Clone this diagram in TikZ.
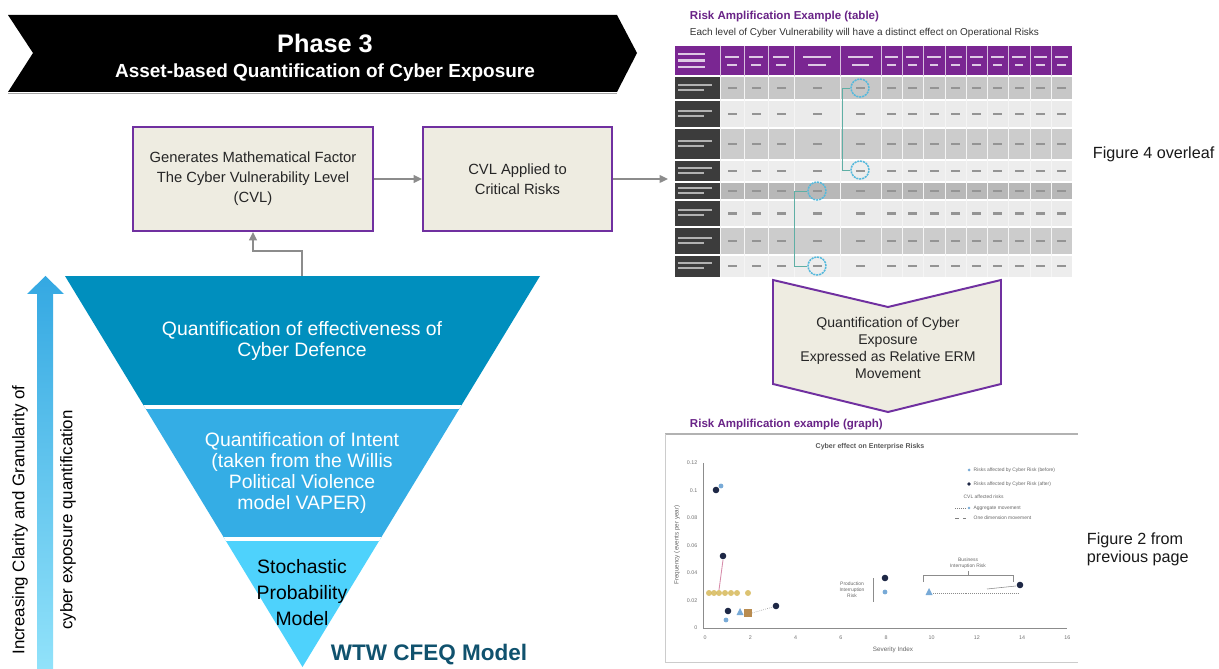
\documentclass[tikz,border=0pt]{standalone}
\usepackage{fontspec}
\setmainfont{Liberation Sans}
\usetikzlibrary{positioning,calc,arrows.meta}

\definecolor{cfpurple}{RGB}{112,48,160}
\definecolor{cfbeige}{RGB}{238,236,225}
\definecolor{cfgrey}{RGB}{140,140,140}
\definecolor{layerone}{RGB}{0,143,190}
\definecolor{layertwo}{RGB}{52,173,229}
\definecolor{layerthree}{RGB}{78,210,252}
\definecolor{wtwteal}{RGB}{16,82,110}
\definecolor{arrowtop}{RGB}{52,168,226}
\definecolor{arrowbot}{RGB}{145,226,250}
\definecolor{tblpurple}{RGB}{122,38,146}
\definecolor{tbltext}{RGB}{105,35,135}
\definecolor{rowdark}{RGB}{60,60,60}
\definecolor{hlcyan}{RGB}{85,185,220}
\definecolor{linkteal}{RGB}{95,175,165}
\definecolor{navypt}{RGB}{30,40,70}
\definecolor{lightpt}{RGB}{120,170,215}
\definecolor{goldpt}{RGB}{215,185,90}
\definecolor{brownpt}{RGB}{185,140,80}
\definecolor{pinkln}{RGB}{215,140,170}

\begin{document}
\begin{tikzpicture}[x=0.025cm, y=-0.025cm,
  box/.style={draw=cfpurple, line width=1.4pt, fill=cfbeige, align=center, text=black!85, inner sep=0pt, font=\fontsize{10.5}{14.2}\selectfont},
  flow/.style={draw=cfgrey, line width=1.1pt, -{Triangle[length=6pt,width=5.5pt]}},
  layertext/.style={align=center, text=white, font=\fontsize{13.8}{15.6}\selectfont},
  sidenote/.style={anchor=west, align=left, text=black!90, font=\fontsize{11.5}{13}\selectfont},
  heading/.style={anchor=west, text=tbltext, font=\bfseries\fontsize{8.2}{9.5}\selectfont},
  hilite/.style={circle, draw=hlcyan, line width=1.1pt, dash pattern=on 1.5pt off 0.6pt, minimum size=0.45cm, inner sep=0pt},
  link/.style={draw=linkteal, line width=0.5pt},
  cellbar/.style={fill=black!42},
  ticklab/.style={text=black!55, font=\fontsize{3.8}{4.5}\selectfont, inner sep=1pt},
  tinylab/.style={text=black!60, align=center, font=\fontsize{3.5}{4.2}\selectfont, inner sep=1pt}]

\useasboundingbox[fill=white] (0,0) rectangle (1219,669);

% phase banner
\fill (8,15) -- (617,15) -- (637,53) -- (617,92) -- (8,92) -- (33,53) -- cycle;
\draw[black!35, line width=0.8pt] (8,93.5) -- (617,93.5);
\node[text=white, font=\bfseries\fontsize{18}{20}\selectfont] (phase) at (325,43) {Phase 3};
\node[text=white, font=\bfseries\fontsize{13.5}{15}\selectfont] (phasesub) at (325,73) {Asset-based Quantification of Cyber Exposure};

% process boxes
\node[box, minimum width=6cm, minimum height=2.6cm] (gen) at (253,179) {Generates Mathematical Factor\\The Cyber Vulnerability Level\\(CVL)};
\node[box, minimum width=4.725cm, minimum height=2.6cm] (cvl) at (517.5,179) {CVL Applied to\\Critical Risks};

% funnel
\begin{scope}
  \clip (65,276) -- (540,276) -- (302.5,667) -- cycle;
  \fill[layerone] (0,276) rectangle (600,407);
  \fill[layertwo] (0,407) rectangle (600,539);
  \fill[layerthree] (0,539) rectangle (600,669);
  \draw[white, line width=2.8pt] (0,407) -- (600,407) (0,539) -- (600,539);
\end{scope}
\coordinate (ftop) at (302,276);
\node[layertext] (defence) at (302,341) {Quantification of effectiveness of\\Cyber Defence};
\node[layertext, font=\fontsize{13.8}{15}\selectfont] (intent) at (302,473) {Quantification of Intent\\(taken from the Willis\\Political Violence\\model VAPER)};
\node[layertext, text=black, font=\fontsize{13.8}{18.5}\selectfont] (stoch) at (302,593) {Stochastic\\Probability\\Model};
\node[text=wtwteal, font=\bfseries\fontsize{16}{18}\selectfont] (model) at (429,655) {WTW CFEQ Model};

% clarity arrow
\shade[top color=arrowtop, bottom color=arrowbot] (37,669) -- (37,294) -- (27,294) -- (45.5,276) -- (64,294) -- (53,294) -- (53,669) -- cycle;
\node[rotate=90, font=\fontsize{12}{14}\selectfont] (clarity) at (20,520) {Increasing Clarity and Granularity of};
\node[rotate=90, font=\fontsize{12}{14}\selectfont] (granular) at (68,520) {cyber exposure quantification};

% table example
\node[heading] (tbltitle) at (685,17) {Risk Amplification Example (table)};
\node[anchor=west, text=black!80, font=\fontsize{7.1}{8.5}\selectfont] (tblsub) at (685,33) {Each level of Cyber Vulnerability will have a distinct effect on Operational Risks};
\path (675,46) coordinate (tblnw) (1072,277) coordinate (tblse);
\fill[tblpurple] (tblnw) rectangle (1072,76);
\foreach \ya/\yb/\sh in {76/100/78, 100/128/92, 128/160/80, 160/182/93, 182/200/72, 200/227/92, 227/255/80, 255/277/93} {
  \fill[white!\sh!black] (720,\ya) rectangle (1072,\yb);
  \fill[rowdark] (675,\ya) rectangle (720,\yb);
  \fill[white!70!black] (678,{(\ya+\yb)/2-4}) rectangle (712,{(\ya+\yb)/2-2});
  \fill[white!70!black] (678,{(\ya+\yb)/2+1}) rectangle (704,{(\ya+\yb)/2+3});
  \draw[white, line width=0.8pt] (675,\ya) -- (1072,\ya);
}
\foreach \yc in {53,59.5,66}
  \fill[white!75!tblpurple] (678,\yc) rectangle (705,\yc+2.2);
\foreach \xa/\xb in {720/744,744/768,768/794,794/840,840/881,881/902,902/923,923/945,945/966,966/987,987/1008,1008/1030,1030/1051,1051/1072} {
  \fill[white!75!tblpurple] ({(\xa+\xb)/2-0.3*(\xb-\xa)},56) rectangle ({(\xa+\xb)/2+0.3*(\xb-\xa)},58.5);
  \fill[white!75!tblpurple] ({(\xa+\xb)/2-0.2*(\xb-\xa)},64) rectangle ({(\xa+\xb)/2+0.2*(\xb-\xa)},66.5);
  \draw[white!70!tblpurple, line width=0.6pt] (\xa,46) -- (\xa,76);
  \draw[white!96!black, line width=0.4pt] (\xa,76) -- (\xa,277);
  \foreach \ya/\yb in {76/100,100/128,128/160,160/182,182/200,200/227,227/255,255/277}
    \fill[cellbar] ({(\xa+\xb)/2-4.5},{(\ya+\yb)/2-1.3}) rectangle ({(\xa+\xb)/2+4.5},{(\ya+\yb)/2+1.3});
}
\node[hilite] (c1) at (860,88) {};
\node[hilite] (c2) at (860,170) {};
\node[hilite] (c3) at (817,191) {};
\node[hilite] (c4) at (817,266) {};
\draw[link] (c1.west) -- +(-8,0) |- (c2.west);
\draw[link] (c3.west) -- +(-13,0) |- (c4.west);

% exposure chevron
\draw[cfpurple, line width=1.4pt, fill=cfbeige] (773,280) -- (888,307) -- (1001,280) -- (1001,384) -- (888,412) -- (773,384) -- cycle;
\node[align=center, text=black!85, font=\fontsize{10}{12.1}\selectfont] (qce) at (888,348) {Quantification of Cyber\\Exposure\\Expressed as Relative ERM\\Movement};

% graph example
\node[heading] (grtitle) at (685,425) {Risk Amplification example (graph)};
\draw[black!30, line width=1.2pt] (665,434) -- (1078,434);
\draw[black!20] (665,434) -- (665,662) -- (1078,662);
\node[text=black!65, font=\bfseries\fontsize{5}{6}\selectfont] (chtitle) at (870,447) {Cyber effect on Enterprise Risks};
\draw[black!45, line width=0.4pt] (703,463) -- (703,628) -- (1067,628);
\foreach \f/\lab in {0/0,1/0.02,2/0.04,3/0.06,4/0.08,5/0.1,6/0.12}
  \node[ticklab, anchor=east] (yt\f) at (699,628-27.5*\f) {\lab};
\foreach \v in {0,2,...,16}
  \node[ticklab] (xt\v) at (705+22.65*\v,638) {\v};
\node[text=black!60, font=\fontsize{4.5}{5}\selectfont] (xlab) at (893,650) {Severity Index};
\node[rotate=90, text=black!60, font=\fontsize{4.5}{5}\selectfont] (ylab) at (677,545) {Frequency (events per year)};
% legend
\fill[lightpt] (969,470) circle[radius=1.5];
\node[tinylab, anchor=west] (lg1) at (972,470) {Risks affected by Cyber Risk (before)};
\fill[navypt] (969,484) circle[radius=1.8];
\node[tinylab, anchor=west] (lg2) at (972,484) {Risks affected by Cyber Risk (after)};
\node[tinylab, anchor=west] (lg3) at (962,497) {CVL affected risks};
\draw[black!50, densely dotted] (955,508) -- (966,508);
\fill[lightpt] (969,508) circle[radius=1.4];
\node[tinylab, anchor=west] (lg4) at (972,508) {Aggregate movement};
\draw[black!50, dashed] (955,518) -- (966,518);
\node[tinylab, anchor=west] (lg5) at (972,518) {One dimension movement};
% points
\draw[pinkln, line width=0.6pt] (723,560) -- (719,590);
\draw[black!50, densely dotted] (752,613) -- (773,607);
\draw[black!45, densely dotted] (933,593) -- (1018,593);
\draw[black!45, line width=0.4pt] (987,589) -- (1016,586);
\foreach \px in {709,714,719,725,731,737,748}
  \fill[goldpt, opacity=0.85] (\px,593) circle[radius=3];
\fill[brownpt] (744,609) rectangle (752,617);
\foreach \px/\py in {721/486,726/620,885/592}
  \fill[lightpt] (\px,\py) circle[radius=2.4];
\foreach \px/\py in {740/612,929/592}
  \fill[lightpt] (\px-3.5,\py+3) -- (\px+3.5,\py+3) -- (\px,\py-4) -- cycle;
\foreach \px/\py in {716/490,723/556,728/611,776/606,885/578,1020/585}
  \fill[navypt] (\px,\py) circle[radius=3.3];
\draw[black!45, line width=0.4pt] (923,582) -- (923,575) -- (1013,575) -- (1013,582) (968,575) -- (968,571);
\node[tinylab] (birlab) at (968,563) {Business\\Interruption Risk};
\draw[black!45, line width=0.4pt] (873,578) -- (873,602);
\node[tinylab] (pirlab) at (852,590) {Production\\Interruption\\Risk};

% side notes
\node[sidenote] (fig4) at (1088,154) {Figure 4 overleaf};
\node[sidenote] (fig2) at (1082,549) {Figure 2 from\\previous page};

% connectors
\draw[flow] (gen) -- (cvl);
\draw[flow, shorten >=5pt] (cvl.east) -- (cvl.east -| tblnw);
\draw[flow] (ftop) |- ($(gen.south)+(0,19)$) -- (gen.south);
\end{tikzpicture}
\end{document}
